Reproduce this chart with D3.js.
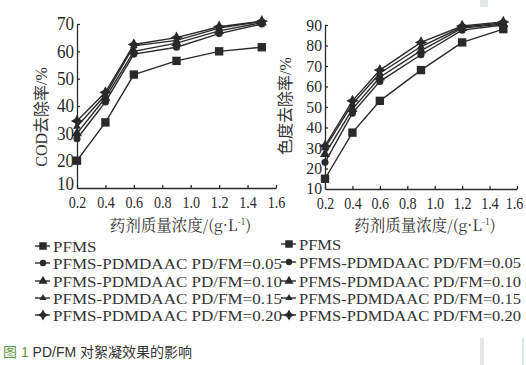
<!DOCTYPE html>
<html><head><meta charset="utf-8">
<script src="https://cdn.jsdelivr.net/npm/d3@7"></script>
<style>body{margin:0;background:#fff}svg{display:block}</style>
</head><body>
<script>
const xValues = [0.2, 0.4, 0.6, 0.9, 1.2, 1.5];
const seriesNames = ["PFMS","PFMS-PDMDAAC PD/FM=0.05","PFMS-PDMDAAC PD/FM=0.10","PFMS-PDMDAAC PD/FM=0.15","PFMS-PDMDAAC PD/FM=0.20"];
const codPFMS = [20, 34, 51.5, 56.5, 60, 61.5];
const cod005  = [28, 41.5, 59, 61.5, 66.5, 70];
const cod010  = [30, 43, 60, 63, 67.5, 70.5];
const cod015  = [32.5, 44, 62, 64, 68.5, 71];
const cod020  = [34.5, 45, 62.5, 65, 69, 71];
const colPFMS = [15, 37.5, 53, 68, 81.5, 88];
const col005  = [23, 47, 62.5, 75.5, 87.5, 90];
const col010  = [27, 49, 64.5, 77.5, 88.5, 90.5];
const col015  = [30, 51.5, 66.5, 79.5, 89, 91];
const col020  = [31, 53, 68, 81.5, 89.5, 91.5];
const xTicks = [0.2,0.4,0.6,0.8,1.0,1.2,1.4,1.6];
const codTicks = [10,20,30,40,50,60,70];
const colTicks = [10,20,30,40,50,60,70,80,90];

const W=526,H=365;
const svg=d3.select("body").append("svg").attr("width",W).attr("height",H);

const star4={draw(ctx,size){const r=Math.sqrt(size)*0.8,i=r*0.35;
 ctx.moveTo(0,-r);ctx.lineTo(i,-i);ctx.lineTo(r,0);ctx.lineTo(i,i);ctx.lineTo(0,r);ctx.lineTo(-i,i);ctx.lineTo(-r,0);ctx.lineTo(-i,-i);ctx.closePath();}};
const symTypes=[d3.symbolSquare,d3.symbolCircle,d3.symbolTriangle,d3.symbolTriangle2,star4];
const symSizes=[70,40,45,45,60];
const ink="#2a2a2a";

function squeeze(sel,ratio){sel.each(function(){const L=this.getComputedTextLength();
  d3.select(this).attr("textLength",L*ratio).attr("lengthAdjust","spacingAndGlyphs");});}

function panel(o){
  const x=d3.scaleLinear().domain([0.2,1.6]).range([o.x0,o.x1]);
  const y=d3.scaleLinear().domain(o.ydom).range([o.y0,o.y1]);
  const g=svg.append("g");
  const xa=g.append("g").attr("transform",`translate(0,${o.y0})`)
    .call(d3.axisBottom(x).tickValues(xTicks).tickFormat(d3.format(".1f")).tickSize(-3).tickSizeOuter(0).tickPadding(9));
  const ya=g.append("g").attr("transform",`translate(${o.x0},0)`)
    .call(d3.axisLeft(y).tickValues(o.yticks).tickSize(-3).tickSizeOuter(0).tickPadding(3));
  [xa,ya].forEach(a=>{a.selectAll("path,line").attr("stroke",ink).attr("stroke-width",1.3);
    a.selectAll("text").attr("fill",ink).attr("font-family","Liberation Serif,serif");});
  xa.selectAll("text").attr("font-size",16).attr("dy","0.71em");
  squeeze(xa.selectAll("text"),0.88);
  xa.selectAll(".tick").filter(d=>d===1.6).select("text").attr("dx",o.lastDx);
  ya.selectAll("text").attr("font-size",o.yFont);
  squeeze(ya.selectAll("text"),0.95);
  const bottom=ya.selectAll(".tick").filter(d=>d===o.ydom[0]);
  bottom.select("line").remove();
  bottom.select("text").attr("dy",o.bottomDy);
  const line=d3.line().x((d,i)=>x(xValues[i])).y(d=>y(d));
  o.series.forEach((s,k)=>{
    g.append("path").attr("d",line(s)).attr("fill","none").attr("stroke",ink).attr("stroke-width",1.4);
  });
  o.series.forEach((s,k)=>{
    g.selectAll(null).data(s).enter().append("path")
      .attr("d",d3.symbol().type(symTypes[k]).size(symSizes[k]))
      .attr("transform",(d,i)=>`translate(${x(xValues[i])},${y(d)})`).attr("fill",ink);
  });
  const t=g.append("text").attr("x",(o.x0+o.x1)/2+4).attr("y",231).attr("text-anchor","middle")
    .attr("font-family","Noto Serif CJK SC,Noto Sans CJK SC,serif").attr("font-size",15.5).attr("fill","#333");
  t.append("tspan").text("药剂质量浓度/(g·L");
  t.append("tspan").attr("font-size",9).attr("dy",-6).text("-1");
  t.append("tspan").attr("dy",6).text(")");
  g.append("text").attr("transform",`translate(${o.tx},${o.ty}) rotate(-90)`).attr("text-anchor","middle")
    .attr("font-family","Liberation Serif,Noto Sans CJK SC,serif").attr("font-size",16).attr("fill","#333").text(o.title);
  // legend
  const texts=[];
  seriesNames.forEach((n,k)=>{
    const ly=o.ly[k];
    g.append("line").attr("x1",o.lx).attr("x2",o.lx+15).attr("y1",ly).attr("y2",ly).attr("stroke",ink).attr("stroke-width",1.4);
    g.append("path").attr("d",d3.symbol().type(symTypes[k]).size(symSizes[k]*0.8)).attr("transform",`translate(${o.lx+8},${ly})`).attr("fill",ink);
    texts.push(g.append("text").attr("x",o.lx+18).attr("y",ly+5.5).attr("font-family","Liberation Serif,serif")
      .attr("font-size",15.5).attr("fill","#333").text(n));
  });
  const nat=texts[1].node().getComputedTextLength();
  const r=o.lwidth/nat;
  texts.forEach(tx=>squeeze(tx,r));
}

panel({x0:77,x1:276,y0:188,y1:24,ydom:[10,70],yticks:codTicks,series:[codPFMS,cod005,cod010,cod015,cod020],
  title:"COD去除率/%",tx:47,ty:117,lx:35,ly:[246,263,281,298,315],lwidth:229,lastDx:0,yFont:18,bottomDy:"0.1em"});
panel({x0:325,x1:517,y0:189,y1:25,ydom:[10,90],yticks:colTicks,series:[colPFMS,col005,col010,col015,col020],
  title:"色度去除率/%",tx:291,ty:106,lx:281,ly:[244,262,281,298,315],lwidth:222,lastDx:-3,yFont:16.5,bottomDy:"0.25em"});

// caption
const cap=svg.append("text").attr("x",3).attr("y",357).attr("font-family","Liberation Sans,Noto Sans CJK SC,sans-serif").attr("font-size",14);
cap.append("tspan").attr("fill","#5f9a44").text("图 1 ");
cap.append("tspan").attr("fill","#333").text("PD/FM 对絮凝效果的影响");
// faint scan artifacts
svg.append("rect").attr("x",480).attr("y",0).attr("width",8).attr("height",7).attr("fill","#e4e6ea");
svg.append("rect").attr("x",480).attr("y",338).attr("width",4).attr("height",27).attr("fill","#e6e6e6");
svg.append("rect").attr("x",522).attr("y",338).attr("width",2).attr("height",27).attr("fill","#d6e6ee");
</script>
</body></html>
